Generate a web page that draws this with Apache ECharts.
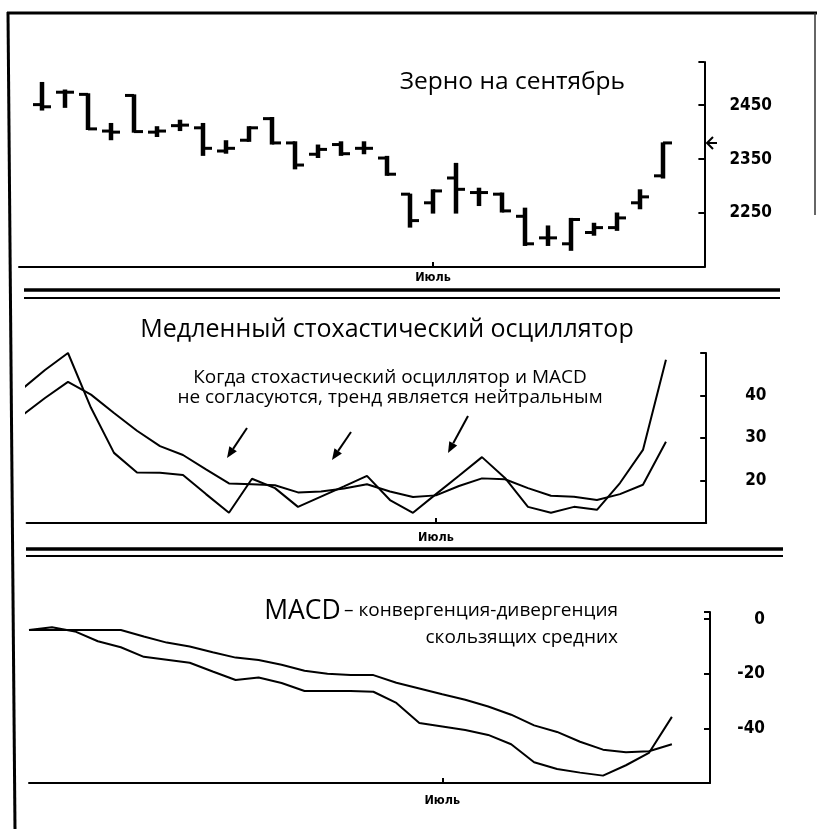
<!DOCTYPE html>
<html><head><meta charset="utf-8">
<script src="https://cdn.jsdelivr.net/npm/echarts@6/dist/echarts.min.js"></script>
<style>html,body{margin:0;padding:0;background:#fff}#c{width:817px;height:829px}</style>
</head><body><div id="c"></div>
<script>
// ---- data ----
const weeks = ['', '', '', '', '', '', '', '', '', '', '', '', '', '', '', '', '', '', 'Июль', '', '', '', '', '', '', '', '', '', ''];
// weekly OHLC bars, week index 1..28
const barOpen  = [2451,2474,2470,2402,2468,2400,2412,2408,2365,2385,2425,2380,2359,2377,2370,2352,2285,2269,2315,2288,2285,2244,2204,2193,2214,2223,2269,2319];
const barHigh  = [2493,2479,2472,2417,2470,2411,2423,2417,2385,2411,2428,2383,2377,2383,2383,2356,2286,2294,2343,2297,2288,2260,2227,2241,2232,2251,2294,2381];
const barLow   = [2440,2445,2404,2385,2399,2391,2402,2356,2360,2382,2377,2331,2352,2356,2359,2319,2223,2249,2249,2263,2251,2189,2189,2180,2208,2217,2257,2314];
const barClose = [2447,2474,2406,2400,2401,2402,2413,2370,2370,2408,2380,2339,2368,2360,2370,2322,2236,2291,2294,2288,2254,2193,2204,2238,2223,2241,2280,2380];
const priceTickLabels = [2250, 2350, 2450];
// slow stochastic, week index 0..28
const stochK = [41.5,46.0,50.0,37.1,26.5,21.9,21.8,21.3,16.8,12.4,20.4,18.2,13.8,16.2,18.6,21.1,15.4,12.4,16.8,21.1,25.5,20.6,13.8,12.4,13.8,13.1,19.4,27.2,48.4];
const stochD = [35.3,39.4,43.2,40.2,35.9,31.7,28.1,26.0,22.6,19.3,19.1,18.9,17.2,17.4,18.1,19.1,17.4,16.1,16.5,18.7,20.5,20.3,18.2,16.4,16.2,15.4,16.8,19.0,29.1];
const stochTickLabels = [20, 30, 40];
// MACD, week index 0..28
const macdLine   = [-4.0,-3.0,-4.5,-8.1,-10.3,-13.8,-14.9,-16.0,-19.2,-22.3,-21.4,-23.4,-26.3,-26.3,-26.3,-26.6,-30.7,-38.0,-39.3,-40.6,-42.4,-45.8,-52.4,-54.9,-56.2,-57.3,-53.5,-49.0,-35.8];
const macdSignal = [-4.0,-4.0,-4.0,-4.0,-4.0,-6.4,-8.6,-10.0,-12.1,-14.1,-15.0,-16.7,-18.9,-20.0,-20.5,-20.5,-23.3,-25.4,-27.5,-29.5,-32.0,-35.0,-38.9,-41.3,-44.9,-47.8,-48.7,-48.4,-45.8];
const macdTickLabels = [0, -20, -40];

// ---- chart ----
const BLACK = '#000';
const numFont = '"Liberation Sans Narrow", "DejaVu Sans Condensed", "Liberation Sans", sans-serif';
const txtFont = '"Open Sans", "Noto Sans", sans-serif';
const julyIdx = weeks.indexOf('Июль');

function xAxisCfg(gi, min, max, margin) {
  return {
    type: 'value', gridIndex: gi, min: min, max: max, position: 'bottom',
    axisLine: { show: true, onZero: false, lineStyle: { color: BLACK, width: 2 } },
    splitLine: { show: false },
    axisTick: { show: true, inside: true, length: 5, customValues: [julyIdx], lineStyle: { color: BLACK, width: 2 } },
    axisLabel: { show: true, customValues: [julyIdx], formatter: function (v) { return weeks[Math.round(v)] || ''; },
      margin: margin, color: BLACK, fontFamily: numFont, fontWeight: 'bold', fontSize: 12.5 }
  };
}
function yAxisCfg(gi, min, max, interval, labels, margin, align) {
  return {
    type: 'value', gridIndex: gi, min: min, max: max, interval: interval, position: 'right',
    axisLine: { show: true, onZero: false, lineStyle: { color: BLACK, width: 2 } },
    splitLine: { show: false },
    axisTick: { show: true, inside: true, length: 6, lineStyle: { color: BLACK, width: 2 } },
    axisLabel: { show: true, margin: margin, align: align, color: BLACK, fontFamily: numFont, fontWeight: 'bold', fontSize: 17,
      formatter: function (v) { return labels.indexOf(v) >= 0 ? String(v) : ''; } }
  };
}

function arrowGraphic(x1, y1, x2, y2) {
  const dx = x2 - x1, dy = y2 - y1, len = Math.sqrt(dx * dx + dy * dy);
  const ux = dx / len, uy = dy / len, px = -uy, py = ux;
  const bx = x2 - 11 * ux, by = y2 - 11 * uy;
  return [
    { type: 'line', shape: { x1: x1, y1: y1, x2: bx, y2: by }, style: { stroke: BLACK, lineWidth: 2 } },
    { type: 'polygon', shape: { points: [[x2, y2], [bx + 4.5 * px, by + 4.5 * py], [bx - 4.5 * px, by - 4.5 * py]] }, style: { fill: BLACK } }
  ];
}
function txt(s, x, y, align, size) {
  return { type: 'text', style: { text: s, x: x, y: y, align: align, textAlign: align, verticalAlign: 'middle', textVerticalAlign: 'middle', font: size + 'px ' + txtFont, fill: BLACK } };
}

const graphics = [
  // frame
  { type: 'line', shape: { x1: 7, y1: 13, x2: 817, y2: 13 }, style: { stroke: BLACK, lineWidth: 3 } },
  { type: 'line', shape: { x1: 8, y1: 12, x2: 15, y2: 829 }, style: { stroke: BLACK, lineWidth: 3 } },
  { type: 'line', shape: { x1: 815, y1: 13, x2: 815, y2: 215 }, style: { stroke: '#333', lineWidth: 1.5 } },
  // separators
  { type: 'line', shape: { x1: 24, y1: 290, x2: 780, y2: 290 }, style: { stroke: BLACK, lineWidth: 3.5 } },
  { type: 'line', shape: { x1: 24, y1: 298, x2: 780, y2: 298 }, style: { stroke: BLACK, lineWidth: 2 } },
  { type: 'line', shape: { x1: 26, y1: 549, x2: 783, y2: 549 }, style: { stroke: BLACK, lineWidth: 3.5 } },
  { type: 'line', shape: { x1: 26, y1: 556, x2: 783, y2: 556 }, style: { stroke: BLACK, lineWidth: 2 } },
  // titles
  txt('Зерно на сентябрь', 625, 82, 'right', 24.5),
  txt('Медленный стохастический осциллятор', 387, 330, 'center', 25),
  txt('Когда стохастический осциллятор и MACD', 390, 378, 'center', 19),
  txt('не согласуются, тренд является нейтральным', 390, 398, 'center', 19),
  { type: 'text', style: { text: '{a|MACD} {b|– конвергенция-дивергенция}', x: 618, y: 611, align: 'right', textAlign: 'right', verticalAlign: 'middle', textVerticalAlign: 'middle', fill: BLACK,
      rich: { a: { fontSize: 26.5, fontFamily: txtFont, fill: BLACK, color: BLACK }, b: { fontSize: 19, fontFamily: txtFont, fill: BLACK, color: BLACK } } } },
  txt('скользящих средних', 618, 638, 'right', 19),
  // last price marker
  { type: 'polyline', shape: { points: [[713, 137], [707, 143], [713, 149]] }, style: { stroke: BLACK, lineWidth: 2, fill: null } },
  { type: 'line', shape: { x1: 707, y1: 143, x2: 717, y2: 143 }, style: { stroke: BLACK, lineWidth: 2 } }
].concat(arrowGraphic(247, 428, 227, 458), arrowGraphic(351, 432, 332, 460), arrowGraphic(468, 416, 448, 453));

const option = {
  animation: false,
  backgroundColor: '#fff',
  grid: [
    { left: 19, top: 62, width: 685.4, height: 205 },
    { left: 26.6, top: 353, width: 679.6, height: 170 },
    { left: 29, top: 612, width: 681, height: 171 }
  ],
  xAxis: [
    xAxisCfg(0, 0, 29.8, 4),
    xAxisCfg(1, 0.2, 29.75, 8),
    xAxisCfg(2, 0, 29.66, 11)
  ],
  yAxis: [
    yAxisCfg(0, 2150, 2530, 100, priceTickLabels, 25, 'left'),
    yAxisCfg(1, 10, 50, 10, stochTickLabels, 39, 'left'),
    yAxisCfg(2, -60, 2.6, 20, macdTickLabels, 55, 'right')
  ],
  series: [
    {
      type: 'custom', xAxisIndex: 0, yAxisIndex: 0,
      data: barOpen.map(function (o, i) { return [i + 1, o, barHigh[i], barLow[i], barClose[i]]; }),
      encode: { x: 0, y: [1, 2, 3, 4] },
      renderItem: function (params, api) {
        const x = api.value(0);
        const op = api.coord([x, api.value(1)]);
        const hi = api.coord([x, api.value(2)]);
        const lo = api.coord([x, api.value(3)]);
        const cl = api.coord([x, api.value(4)]);
        return { type: 'group', children: [
          { type: 'rect', shape: { x: hi[0] - 2.25, y: hi[1], width: 4.5, height: lo[1] - hi[1] }, style: { fill: BLACK } },
          { type: 'rect', shape: { x: op[0] - 9, y: op[1] - 1.5, width: 9, height: 3 }, style: { fill: BLACK } },
          { type: 'rect', shape: { x: cl[0], y: cl[1] - 1.5, width: 9, height: 3 }, style: { fill: BLACK } }
        ] };
      }
    },
    { type: 'line', xAxisIndex: 1, yAxisIndex: 1, data: stochK.map(function (v, i) { return [i, v]; }), symbol: 'none', clip: true, lineStyle: { color: BLACK, width: 2 } },
    { type: 'line', xAxisIndex: 1, yAxisIndex: 1, data: stochD.map(function (v, i) { return [i, v]; }), symbol: 'none', clip: true, lineStyle: { color: BLACK, width: 2 } },
    { type: 'line', xAxisIndex: 2, yAxisIndex: 2, data: macdLine.map(function (v, i) { return [i, v]; }), symbol: 'none', clip: true, lineStyle: { color: BLACK, width: 2 } },
    { type: 'line', xAxisIndex: 2, yAxisIndex: 2, data: macdSignal.map(function (v, i) { return [i, v]; }), symbol: 'none', clip: true, lineStyle: { color: BLACK, width: 2 } }
  ],
  graphic: graphics
};
const chart = echarts.init(document.getElementById('c'));
chart.setOption(option);
</script>
</body></html>
